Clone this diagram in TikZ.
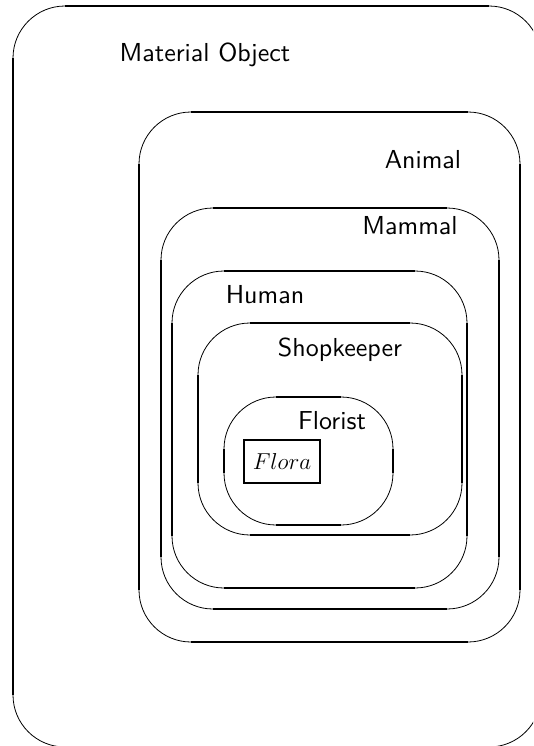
\documentclass[tikz,border=0pt]{standalone}
\usepackage{tikz}
\usepackage{amsmath}
\usepackage{fontspec}
\setsansfont{lmsans10-regular.otf}

\begin{document}
\begin{tikzpicture}[x=0.75pt,y=-0.75pt,
  arc line/.style={line width=0.6pt,rounded corners=39pt},
  side line/.style={line width=1.5pt},
  class name/.style={anchor=base,font=\sffamily\fontsize{19.5}{23}\selectfont},
  object box/.style={draw,line width=1.2pt,minimum width=57pt,minimum height=32pt,inner sep=0pt,font=\fontsize{19}{23}\selectfont}]
  \clip (0,0) rectangle (533,746);

  % the six classes, outermost first
  \draw[arc line] (13,6) rectangle (541,747)
    (139,112) rectangle (520,642)
    (161,208) rectangle (499,609)
    (172,271) rectangle (467,588)
    (198,323) rectangle (462,535)
    (224,397) rectangle (393,525);

  \draw[side line]
    (65,6) -- (489,6) (65,747) -- (489,747) (13,58) -- (13,695) (541,58) -- (541,695)
    (191,112) -- (468,112) (191,642) -- (468,642) (139,164) -- (139,590) (520,164) -- (520,590)
    (213,208) -- (447,208) (213,609) -- (447,609) (161,260) -- (161,557) (499,260) -- (499,557)
    (224,271) -- (415,271) (224,588) -- (415,588) (172,323) -- (172,536) (467,323) -- (467,536)
    (250,323) -- (410,323) (250,535) -- (410,535) (198,375) -- (198,483) (462,375) -- (462,483)
    (276,397) -- (341,397) (276,525) -- (341,525) (224,449) -- (224,473) (393,449) -- (393,473);

  \node[class name] (material) at (205,61) {Material Object};
  \node[class name] (animal) at (423,168) {Animal};
  \node[class name] (mammal) at (410,234) {Mammal};
  \node[class name] (human) at (265,303) {Human};
  \node[class name] (shopkeeper) at (340,356) {Shopkeeper};
  \node[class name] (florist) at (332,429) {Florist};
  \node[object box] (flora) at (282,461.5) {$Flora$};
\end{tikzpicture}
\end{document}
